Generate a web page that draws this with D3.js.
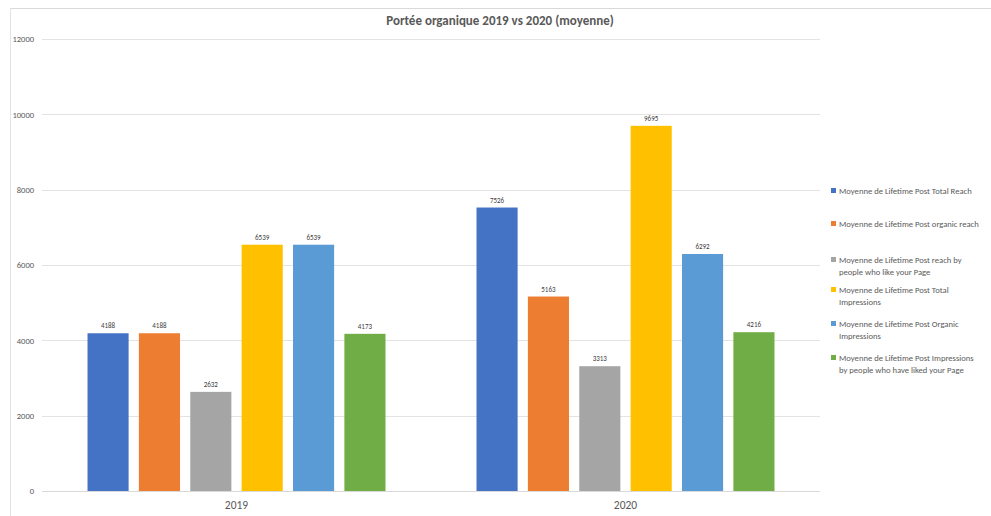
<!DOCTYPE html>
<html>
<head>
<meta charset="utf-8">
<script src="https://cdn.jsdelivr.net/npm/d3@7"></script>
<style>
  html, body { margin: 0; padding: 0; background: #fff; }
  svg { display: block; font-family: Carlito, Calibri, "Liberation Sans", "Open Sans", sans-serif; }
</style>
</head>
<body>
<svg id="chart" width="991" height="516"></svg>
<script>
// Yearly averages of the post metrics
const years = ["2019", "2020"];
const seriesNames = [
  "Moyenne de Lifetime Post Total Reach",
  "Moyenne de Lifetime Post organic reach",
  "Moyenne de Lifetime Post reach by people who like your Page",
  "Moyenne de Lifetime Post Total Impressions",
  "Moyenne de Lifetime Post Organic Impressions",
  "Moyenne de Lifetime Post Impressions by people who have liked your Page"
];
const legendLines = [
  ["Moyenne de Lifetime Post Total Reach"],
  ["Moyenne de Lifetime Post organic reach"],
  ["Moyenne de Lifetime Post reach by", "people who like your Page"],
  ["Moyenne de Lifetime Post Total", "Impressions"],
  ["Moyenne de Lifetime Post Organic", "Impressions"],
  ["Moyenne de Lifetime Post Impressions", "by people who have liked your Page"]
];
const values2019 = [4188, 4188, 2632, 6539, 6539, 4173];
const values2020 = [7526, 5163, 3313, 9695, 6292, 4216];
const yTicks = [0, 2000, 4000, 6000, 8000, 10000, 12000];
const colors = ["#4472C4", "#ED7D31", "#A5A5A5", "#FFC000", "#5B9BD5", "#70AD47"];

const valuesByYear = { "2019": values2019, "2020": values2020 };

const svg = d3.select("#chart");

// chart frame
svg.append("line").attr("x1", 10).attr("x2", 991).attr("y1", 8.5).attr("y2", 8.5)
  .attr("stroke", "#d9d9d9").attr("stroke-width", 1);
svg.append("line").attr("x1", 10.5).attr("x2", 10.5).attr("y1", 8).attr("y2", 516)
  .attr("stroke", "#e3e3e3").attr("stroke-width", 1);

const plot = { left: 42, right: 820, top: 39, bottom: 491 };

const y = d3.scaleLinear().domain([0, 12000]).range([plot.bottom, plot.top]);
const x0 = d3.scaleBand().domain(years).range([plot.left, plot.right]).paddingInner(0.234).paddingOuter(0.117);
const x1 = d3.scaleBand().domain(d3.range(seriesNames.length)).range([0, x0.bandwidth()])
  .paddingInner(0.2).paddingOuter(0);

// gridlines
svg.append("g").selectAll("line").data(yTicks.filter(d => d > 0)).join("line")
  .attr("x1", plot.left).attr("x2", plot.right)
  .attr("y1", d => Math.round(y(d)) + 0.5).attr("y2", d => Math.round(y(d)) + 0.5)
  .attr("stroke", "#e3e3e3").attr("stroke-width", 1);

// y axis labels
const yAxis = d3.axisLeft(y).tickValues(yTicks).tickSize(0).tickPadding(8).tickFormat(d3.format("d"));
const gy = svg.append("g").attr("transform", `translate(${plot.left},0)`).call(yAxis);
gy.select(".domain").remove();
gy.selectAll("text").attr("fill", "#595959").attr("font-size", 8.5)
  .attr("font-family", "Carlito, Calibri, 'Liberation Sans', sans-serif");

// bars
const groups = svg.append("g").selectAll("g").data(years).join("g")
  .attr("transform", d => `translate(${x0(d)},0)`);

groups.selectAll("rect").data(yr => valuesByYear[yr].map((v, i) => ({ v, i }))).join("rect")
  .attr("x", d => x1(d.i))
  .attr("width", x1.bandwidth())
  .attr("y", d => y(d.v))
  .attr("height", d => y(0) - y(d.v))
  .attr("fill", d => colors[d.i]);

groups.selectAll("text").data(yr => valuesByYear[yr].map((v, i) => ({ v, i }))).join("text")
  .attr("x", d => x1(d.i) + x1.bandwidth() / 2)
  .attr("y", d => y(d.v) - 5)
  .attr("text-anchor", "middle")
  .attr("font-size", 7)
  .attr("fill", "#404040")
  .text(d => d.v);

// baseline
svg.append("line").attr("x1", plot.left).attr("x2", plot.right)
  .attr("y1", plot.bottom + 0.5).attr("y2", plot.bottom + 0.5)
  .attr("stroke", "#d9d9d9").attr("stroke-width", 1);

// x axis labels
const xAxis = d3.axisBottom(x0).tickSize(0).tickPadding(10);
const gx = svg.append("g").attr("transform", `translate(0,${plot.bottom})`).call(xAxis);
gx.select(".domain").remove();
gx.selectAll("text").attr("fill", "#595959").attr("font-size", 11.5)
  .attr("font-family", "Carlito, Calibri, 'Liberation Sans', sans-serif");

// title
svg.append("text").attr("x", 500).attr("y", 25).attr("text-anchor", "middle")
  .attr("font-size", 13).attr("font-weight", "bold").attr("fill", "#595959")
  .text("Portée organique 2019 vs 2020 (moyenne)");

// legend
const legendY = [191, 224, 260, 290, 324, 358];
const legend = svg.append("g").selectAll("g").data(legendLines).join("g")
  .attr("transform", (d, i) => `translate(831,${legendY[i]})`);
legend.append("rect").attr("x", 0).attr("y", -3).attr("width", 5).attr("height", 5)
  .attr("fill", (d, i) => colors[i]);
legend.append("text").attr("x", 8).attr("y", 2.5)
  .attr("font-size", 8.6).attr("fill", "#595959")
  .selectAll("tspan").data(d => d).join("tspan")
  .attr("x", 8).attr("dy", (d, j) => j === 0 ? 0 : 12).text(d => d);
</script>
</body>
</html>
